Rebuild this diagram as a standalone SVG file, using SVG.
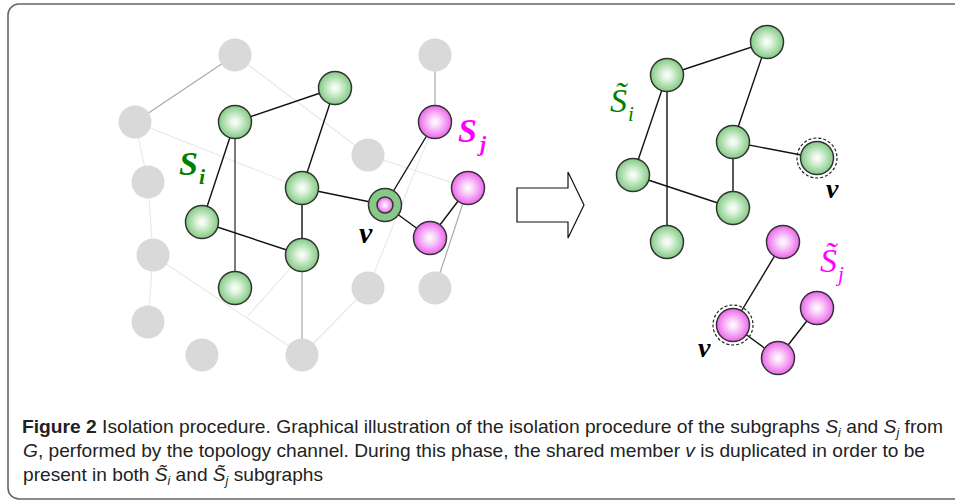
<svg xmlns="http://www.w3.org/2000/svg" width="955" height="503" viewBox="0 0 955 503">
<defs>
<radialGradient id="gg" cx="50%" cy="50%" r="50%">
<stop offset="0" stop-color="#ffffff"/>
<stop offset="0.25" stop-color="#e6f6e6"/>
<stop offset="1" stop-color="#82ca82"/>
</radialGradient>
<radialGradient id="pg" cx="50%" cy="50%" r="50%">
<stop offset="0" stop-color="#ffffff"/>
<stop offset="0.25" stop-color="#fbe0fb"/>
<stop offset="1" stop-color="#ec66ec"/>
</radialGradient>
<style>
.gray{fill:#d9d9d9;stroke:none}
.gn{fill:url(#gg);stroke:#333;stroke-width:1.5}
.pn{fill:url(#pg);stroke:#333;stroke-width:1.5}
.e{stroke:#111;stroke-width:1.4;fill:none}
.em{stroke:#aaaaaa;stroke-width:1.2;fill:none}
.el{stroke:#e8e8e8;stroke-width:1.1;fill:none}
.dash{fill:none;stroke:#222;stroke-width:1.2;stroke-dasharray:3 2}
.lbl{font-family:"Liberation Serif",serif;font-style:italic;font-weight:bold}
.lbl2{font-family:"Liberation Serif","DejaVu Serif",serif;font-style:italic}
.cap{font-family:"Liberation Sans",Arial,sans-serif;font-size:18.5px;fill:#222}
</style>
</defs>
<path d="M1100,4 H19 A11,11 0 0 0 8,15 V488 A11,11 0 0 0 19,499 H1100" fill="#fff" stroke="#666" stroke-width="1.6"/>

<g id="connectors">
<line class="em" x1="235" y1="55" x2="135" y2="122"/>
<line class="el" x1="235" y1="55" x2="368" y2="155"/>
<line class="el" x1="135" y1="122" x2="302" y2="188"/>
<line class="el" x1="135" y1="122" x2="148" y2="182"/>
<line class="el" x1="148" y1="182" x2="153" y2="255"/>
<line class="el" x1="153" y1="255" x2="148" y2="322"/>
<line class="el" x1="153" y1="255" x2="302" y2="355"/>
<line class="el" x1="302" y1="255" x2="247" y2="317"/>
<line class="em" x1="302" y1="255" x2="302" y2="355"/>
<line class="el" x1="302" y1="355" x2="368" y2="288" stroke="#f0f0f0"/>
<line class="el" x1="368" y1="155" x2="468" y2="188"/>
<line class="em" x1="435" y1="55" x2="435" y2="122"/>
<line class="el" x1="368" y1="288" x2="435" y2="122"/>
<line class="em" x1="435" y1="288" x2="468" y2="188"/>
<line class="e" x1="235" y1="122" x2="335" y2="88"/>
<line class="e" x1="335" y1="88" x2="302" y2="188"/>
<line class="e" x1="235" y1="122" x2="202" y2="222"/>
<line class="e" x1="235" y1="122" x2="235" y2="288" style="stroke:#444"/>
<line class="e" x1="202" y1="222" x2="302" y2="255"/>
<line class="e" x1="302" y1="188" x2="302" y2="255"/>
<line class="e" x1="302" y1="188" x2="385" y2="205"/>
<line class="e" x1="385" y1="205" x2="435" y2="122"/>
<line class="e" x1="385" y1="205" x2="430" y2="238"/>
<line class="e" x1="430" y1="238" x2="468" y2="188"/>
<line class="e" x1="667" y1="75" x2="767" y2="42"/>
<line class="e" x1="767" y1="42" x2="733" y2="142"/>
<line class="e" x1="667" y1="75" x2="633" y2="175"/>
<line class="e" x1="667" y1="75" x2="667" y2="242"/>
<line class="e" x1="633" y1="175" x2="733" y2="208"/>
<line class="e" x1="733" y1="142" x2="733" y2="208"/>
<line class="e" x1="733" y1="142" x2="817" y2="158"/>
<line class="e" x1="783" y1="242" x2="733" y2="325"/>
<line class="e" x1="733" y1="325" x2="778" y2="358"/>
<line class="e" x1="778" y1="358" x2="817" y2="308"/>
</g>

<g id="gray-nodes">
<circle id="g1" class="gray" cx="235" cy="55" r="16.5"/>
<circle id="g2" class="gray" cx="135" cy="122" r="16.5"/>
<circle id="g3" class="gray" cx="148" cy="182" r="16.5"/>
<circle id="g4" class="gray" cx="153" cy="255" r="16.5"/>
<circle id="g5" class="gray" cx="148" cy="322" r="16.5"/>
<circle id="g6" class="gray" cx="202" cy="355" r="16.5"/>
<circle id="g7" class="gray" cx="302" cy="355" r="16.5"/>
<circle id="g8" class="gray" cx="368" cy="155" r="16.5"/>
<circle id="g9" class="gray" cx="435" cy="55" r="16.5"/>
<circle id="g10" class="gray" cx="368" cy="288" r="16.5"/>
<circle id="g11" class="gray" cx="435" cy="288" r="16.5"/>
</g>

<g id="si-nodes">
<circle id="a" class="gn" cx="235" cy="122" r="16.5"/>
<circle id="b" class="gn" cx="335" cy="88" r="16.5"/>
<circle id="c" class="gn" cx="302" cy="188" r="16.5"/>
<circle id="d" class="gn" cx="202" cy="222" r="16.5"/>
<circle id="e" class="gn" cx="302" cy="255" r="16.5"/>
<circle id="f" class="gn" cx="235" cy="288" r="16.5"/>
</g>
<g id="sj-nodes">
<circle id="p1" class="pn" cx="435" cy="122" r="16.5"/>
<circle id="p2" class="pn" cx="468" cy="188" r="16.5"/>
<circle id="p3" class="pn" cx="430" cy="238" r="16.5"/>
</g>
<g id="v-node">
<circle cx="385" cy="205" r="16.5" fill="#88c888" stroke="#333" stroke-width="1.5"/>
<circle cx="385" cy="205" r="8" fill="url(#pg)" stroke="#333" stroke-width="1.5"/>
</g>

<g id="labels-left">
<text class="lbl" x="179" y="175" font-size="34" fill="#008000">S</text>
<text class="lbl" x="199" y="184" font-size="22" fill="#008000">i</text>
<text class="lbl" x="458" y="142" font-size="34" fill="#ff00ff">S</text>
<text class="lbl" x="480" y="151" font-size="22" fill="#ff00ff">j</text>
<text class="lbl" x="359" y="243" font-size="30" fill="#000">v</text>
</g>

<g id="arrow">
<polygon points="517,188 568,188 568,172 584,205 568,238 568,222 517,222" fill="#fff" stroke="#111" stroke-width="1.2"/>
</g>

<g id="si-tilde-nodes">
<circle id="A" class="gn" cx="667" cy="75" r="16.5"/>
<circle id="B" class="gn" cx="767" cy="42" r="16.5"/>
<circle id="C" class="gn" cx="733" cy="142" r="16.5"/>
<circle id="D" class="gn" cx="633" cy="175" r="16.5"/>
<circle id="E" class="gn" cx="733" cy="208" r="16.5"/>
<circle id="F" class="gn" cx="667" cy="242" r="16.5"/>
<g id="V1">
<circle class="gn" cx="817" cy="158" r="16.5"/>
<circle class="dash" cx="817" cy="158" r="20"/>
</g>
</g>
<g id="sj-tilde-nodes">
<circle id="P1" class="pn" cx="783" cy="242" r="16.5"/>
<circle id="P2" class="pn" cx="817" cy="308" r="16.5"/>
<circle id="P3" class="pn" cx="778" cy="358" r="16.5"/>
<g id="V2">
<circle class="pn" cx="733" cy="325" r="16.5"/>
<circle class="dash" cx="733" cy="325" r="20"/>
</g>
</g>

<g id="labels-right">
<text class="lbl2" x="610" y="112" font-size="34" fill="#008000">S̃<tspan font-size="21" dx="1" dy="9">i</tspan></text>
<text class="lbl2" x="820" y="272" font-size="34" fill="#ff00ff">S̃<tspan font-size="21" dx="1" dy="9">j</tspan></text>
<text class="lbl" x="826" y="198" font-size="28" fill="#000">v</text>
<text class="lbl" x="698" y="357" font-size="28" fill="#000">v</text>
</g>

<g id="caption">
<text class="cap" x="22" y="433" textLength="921" lengthAdjust="spacingAndGlyphs"><tspan font-weight="bold">Figure 2</tspan>  Isolation procedure. Graphical illustration of the isolation procedure of the subgraphs <tspan font-style="italic">S</tspan><tspan font-style="italic" font-size="12" dy="4">i</tspan><tspan dy="-4"> and </tspan><tspan font-style="italic">S</tspan><tspan font-style="italic" font-size="12" dy="4">j</tspan><tspan dy="-4"> from</tspan></text>
<text class="cap" x="23" y="457" textLength="902" lengthAdjust="spacingAndGlyphs"><tspan font-style="italic">G</tspan>, performed by the topology channel. During this phase, the shared member <tspan font-style="italic">v</tspan> is duplicated in order to be</text>
<text class="cap" x="23" y="481" textLength="300" lengthAdjust="spacingAndGlyphs">present in both <tspan font-style="italic">S̃</tspan><tspan font-style="italic" font-size="12" dy="4">i</tspan><tspan dy="-4"> and </tspan><tspan font-style="italic">S̃</tspan><tspan font-style="italic" font-size="12" dy="4">j</tspan><tspan dy="-4"> subgraphs</tspan></text>
</g>
</svg>
